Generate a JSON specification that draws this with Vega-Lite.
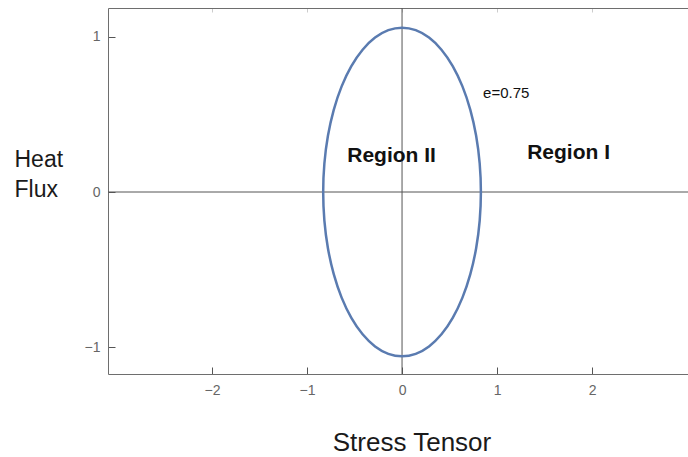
{
  "$schema": "https://vega.github.io/schema/vega-lite/v6.json",
  "width": 580,
  "height": 366,
  "autosize": "none",
  "padding": {"left": 108, "top": 8, "right": 0, "bottom": 83},
  "background": "white",
  "config": {"view": {"stroke": null}, "font": "Liberation Sans"},
  "resolve": {"axis": {"x": "independent", "y": "independent"}},
  "datasets": {
    "ellipse": [
      {"i": 0, "x": 0.83, "y": 0},
      {"i": 1, "x": 0.8174, "y": 0.184},
      {"i": 2, "x": 0.78, "y": 0.3625},
      {"i": 3, "x": 0.7188, "y": 0.53},
      {"i": 4, "x": 0.6358, "y": 0.6814},
      {"i": 5, "x": 0.5335, "y": 0.812},
      {"i": 6, "x": 0.415, "y": 0.918},
      {"i": 7, "x": 0.2839, "y": 0.9961},
      {"i": 8, "x": 0.1441, "y": 1.0439},
      {"i": 9, "x": 0, "y": 1.06},
      {"i": 10, "x": -0.1441, "y": 1.0439},
      {"i": 11, "x": -0.2839, "y": 0.9961},
      {"i": 12, "x": -0.415, "y": 0.918},
      {"i": 13, "x": -0.5335, "y": 0.812},
      {"i": 14, "x": -0.6358, "y": 0.6814},
      {"i": 15, "x": -0.7188, "y": 0.53},
      {"i": 16, "x": -0.78, "y": 0.3625},
      {"i": 17, "x": -0.8174, "y": 0.184},
      {"i": 18, "x": -0.83, "y": 0},
      {"i": 19, "x": -0.8174, "y": -0.184},
      {"i": 20, "x": -0.78, "y": -0.3625},
      {"i": 21, "x": -0.7188, "y": -0.53},
      {"i": 22, "x": -0.6358, "y": -0.6814},
      {"i": 23, "x": -0.5335, "y": -0.812},
      {"i": 24, "x": -0.415, "y": -0.918},
      {"i": 25, "x": -0.2839, "y": -0.9961},
      {"i": 26, "x": -0.1441, "y": -1.0439},
      {"i": 27, "x": 0, "y": -1.06},
      {"i": 28, "x": 0.1441, "y": -1.0439},
      {"i": 29, "x": 0.2839, "y": -0.9961},
      {"i": 30, "x": 0.415, "y": -0.918},
      {"i": 31, "x": 0.5335, "y": -0.812},
      {"i": 32, "x": 0.6358, "y": -0.6814},
      {"i": 33, "x": 0.7188, "y": -0.53},
      {"i": 34, "x": 0.78, "y": -0.3625},
      {"i": 35, "x": 0.8174, "y": -0.184}
    ],
    "labels": [
      {"x": 0.853, "y": 0.606, "text": "e=0.75", "kind": "small"},
      {"x": -0.11, "y": 0.194, "text": "Region II", "kind": "big"},
      {"x": 1.753, "y": 0.213, "text": "Region I", "kind": "big"}
    ],
    "origin": [{"v": 0}]
  },
  "layer": [
    {
      "data": {"name": "origin"},
      "mark": {"type": "rule", "color": "#555555", "strokeWidth": 1},
      "encoding": {
        "x": {"field": "v", "type": "quantitative", "scale": {"domain": [-3.095, 3.01], "nice": false, "zero": false},
          "axis": {"orient": "top", "offset": -4, "labels": false, "ticks": true, "tickSize": 4, "tickColor": "#cccccc", "domain": false, "grid": false, "title": null, "values": [-2, -1, 0, 1, 2]}}
      }
    },
    {
      "data": {"name": "origin"},
      "mark": {"type": "rule", "color": "#555555", "strokeWidth": 1},
      "encoding": {
        "y": {"field": "v", "type": "quantitative", "axis": null}
      }
    },
    {
      "data": {"name": "ellipse"},
      "mark": {"type": "line", "interpolate": "cardinal-closed", "stroke": "#5a7bb0", "strokeWidth": 2.5},
      "encoding": {
        "x": {"field": "x", "type": "quantitative", "scale": {"domain": [-3.095, 3.01], "nice": false, "zero": false},
          "axis": {"orient": "bottom", "offset": -7, "values": [-2, -1, 0, 1, 2], "grid": false, "domain": false, "ticks": true, "tickSize": 7, "tickWidth": 1, "tickColor": "#555555", "labelPadding": 9, "labelFontSize": 14, "labelColor": "#666666", "labelFont": "Liberation Sans",
            "title": "Stress Tensor", "titleFontSize": 26, "titleFontWeight": "normal", "titleColor": "#1a1a1a", "titleX": 303.5, "titleY": 83, "titleBaseline": "alphabetic", "titleAlign": "center"}},
        "y": {"field": "y", "type": "quantitative", "scale": {"domain": [-1.174, 1.187], "nice": false, "zero": false},
          "axis": {"orient": "left", "offset": -7, "values": [-1, 0, 1], "grid": false, "domain": false, "ticks": true, "tickSize": 7, "tickWidth": 1, "tickColor": "#555555", "labelPadding": 8, "labelFontSize": 14, "labelColor": "#666666", "labelFont": "Liberation Sans",
            "title": ["Heat", "Flux"], "titleAngle": 0, "titleAlign": "left", "titleBaseline": "alphabetic", "titleX": -101, "titleY": 158, "titleFontSize": 23, "titleFontWeight": "normal", "titleColor": "#1a1a1a", "titleLineHeight": 30}},
        "order": {"field": "i", "type": "quantitative"}
      }
    },
    {
      "data": {"name": "labels"},
      "transform": [{"filter": "datum.kind == 'big'"}],
      "mark": {"type": "text", "fontSize": 21, "fontWeight": "bold", "color": "#111111", "align": "center", "baseline": "alphabetic"},
      "encoding": {
        "x": {"field": "x", "type": "quantitative", "axis": {"orient": "bottom", "labels": false, "ticks": false, "grid": false, "domain": true, "domainColor": "#6e6e6e", "title": null}},
        "y": {"field": "y", "type": "quantitative", "axis": {"orient": "left", "labels": false, "ticks": false, "grid": false, "domain": true, "domainColor": "#6e6e6e", "title": null}},
        "text": {"field": "text"}
      }
    },
    {
      "data": {"name": "labels"},
      "transform": [{"filter": "datum.kind == 'small'"}],
      "mark": {"type": "text", "fontSize": 15, "color": "#111111", "align": "left", "baseline": "alphabetic"},
      "encoding": {
        "x": {"field": "x", "type": "quantitative", "axis": {"orient": "top", "labels": false, "ticks": false, "grid": false, "domain": true, "domainColor": "#6e6e6e", "title": null}},
        "y": {"field": "y", "type": "quantitative", "axis": null},
        "text": {"field": "text"}
      }
    }
  ]
}
